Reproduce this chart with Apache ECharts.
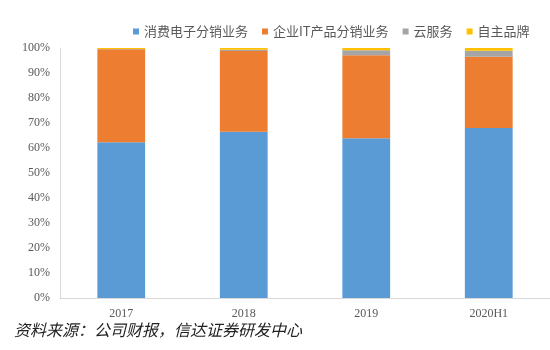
<!DOCTYPE html>
<html>
<head>
<meta charset="utf-8">
<script src="https://cdn.jsdelivr.net/npm/echarts@6/dist/echarts.min.js"></script>
<style>
  html, body { margin: 0; padding: 0; background: #fff; }
  #chart { width: 550px; height: 350px; }
</style>
</head>
<body>
<div id="chart"></div>
<script>
// Revenue mix by business line (share of total, %)
const categories = ['2017', '2018', '2019', '2020H1'];
const seriesNames = ['消费电子分销业务', '企业IT产品分销业务', '云服务', '自主品牌'];
const consumerElec = [62.3, 66.5, 63.9, 68.0];
const enterpriseIT = [37.2, 32.3, 33.2, 28.5];
const cloudService = [0.1, 0.5, 2.0, 2.4];
const ownBrand = [0.4, 0.7, 0.9, 1.1];
const yTicks = [0, 10, 20, 30, 40, 50, 60, 70, 80, 90, 100];
const colors = ['#5b9bd5', '#ed7d31', '#a5a5a5', '#ffc000'];
const sourceNote = '资料来源：公司财报，信达证券研发中心';

const chart = echarts.init(document.getElementById('chart'), null, { renderer: 'canvas' });
const values = [consumerElec, enterpriseIT, cloudService, ownBrand];

chart.setOption({
  animation: false,
  color: colors,
  textStyle: { fontFamily: '"Noto Sans CJK SC", "Noto Sans", sans-serif' },
  legend: {
    left: 128,
    top: 20,
    width: 420,
    itemWidth: 6,
    itemHeight: 6,
    itemGap: 14,
    icon: 'rect',
    textStyle: { fontSize: 13, color: '#595959' },
    data: seriesNames
  },
  grid: { left: 60, top: 48, width: 500, height: 250, containLabel: false },
  xAxis: {
    type: 'category',
    data: categories,
    axisLine: { lineStyle: { color: '#d9d9d9' } },
    axisTick: { show: false },
    axisLabel: { color: '#595959', fontSize: 12, fontFamily: '"Liberation Serif", serif', margin: 10 }
  },
  yAxis: {
    type: 'value',
    min: yTicks[0],
    max: yTicks[yTicks.length - 1],
    interval: 10,
    axisLine: { show: true, lineStyle: { color: '#d9d9d9' } },
    axisTick: { show: false },
    splitLine: { show: false },
    axisLabel: { color: '#595959', fontSize: 12, fontFamily: '"Liberation Serif", serif', margin: 10, formatter: '{value}%' }
  },
  series: seriesNames.map((name, i) => ({
    name,
    type: 'bar',
    stack: 'share',
    barWidth: '39%',
    data: values[i]
  })),
  graphic: [{
    type: 'text',
    left: 14,
    top: 322,
    style: {
      text: sourceNote,
      fontSize: 16,
      fontStyle: 'italic',
      fontFamily: '"Noto Sans CJK SC", sans-serif',
      fill: '#222'
    }
  }]
});
</script>
</body>
</html>
